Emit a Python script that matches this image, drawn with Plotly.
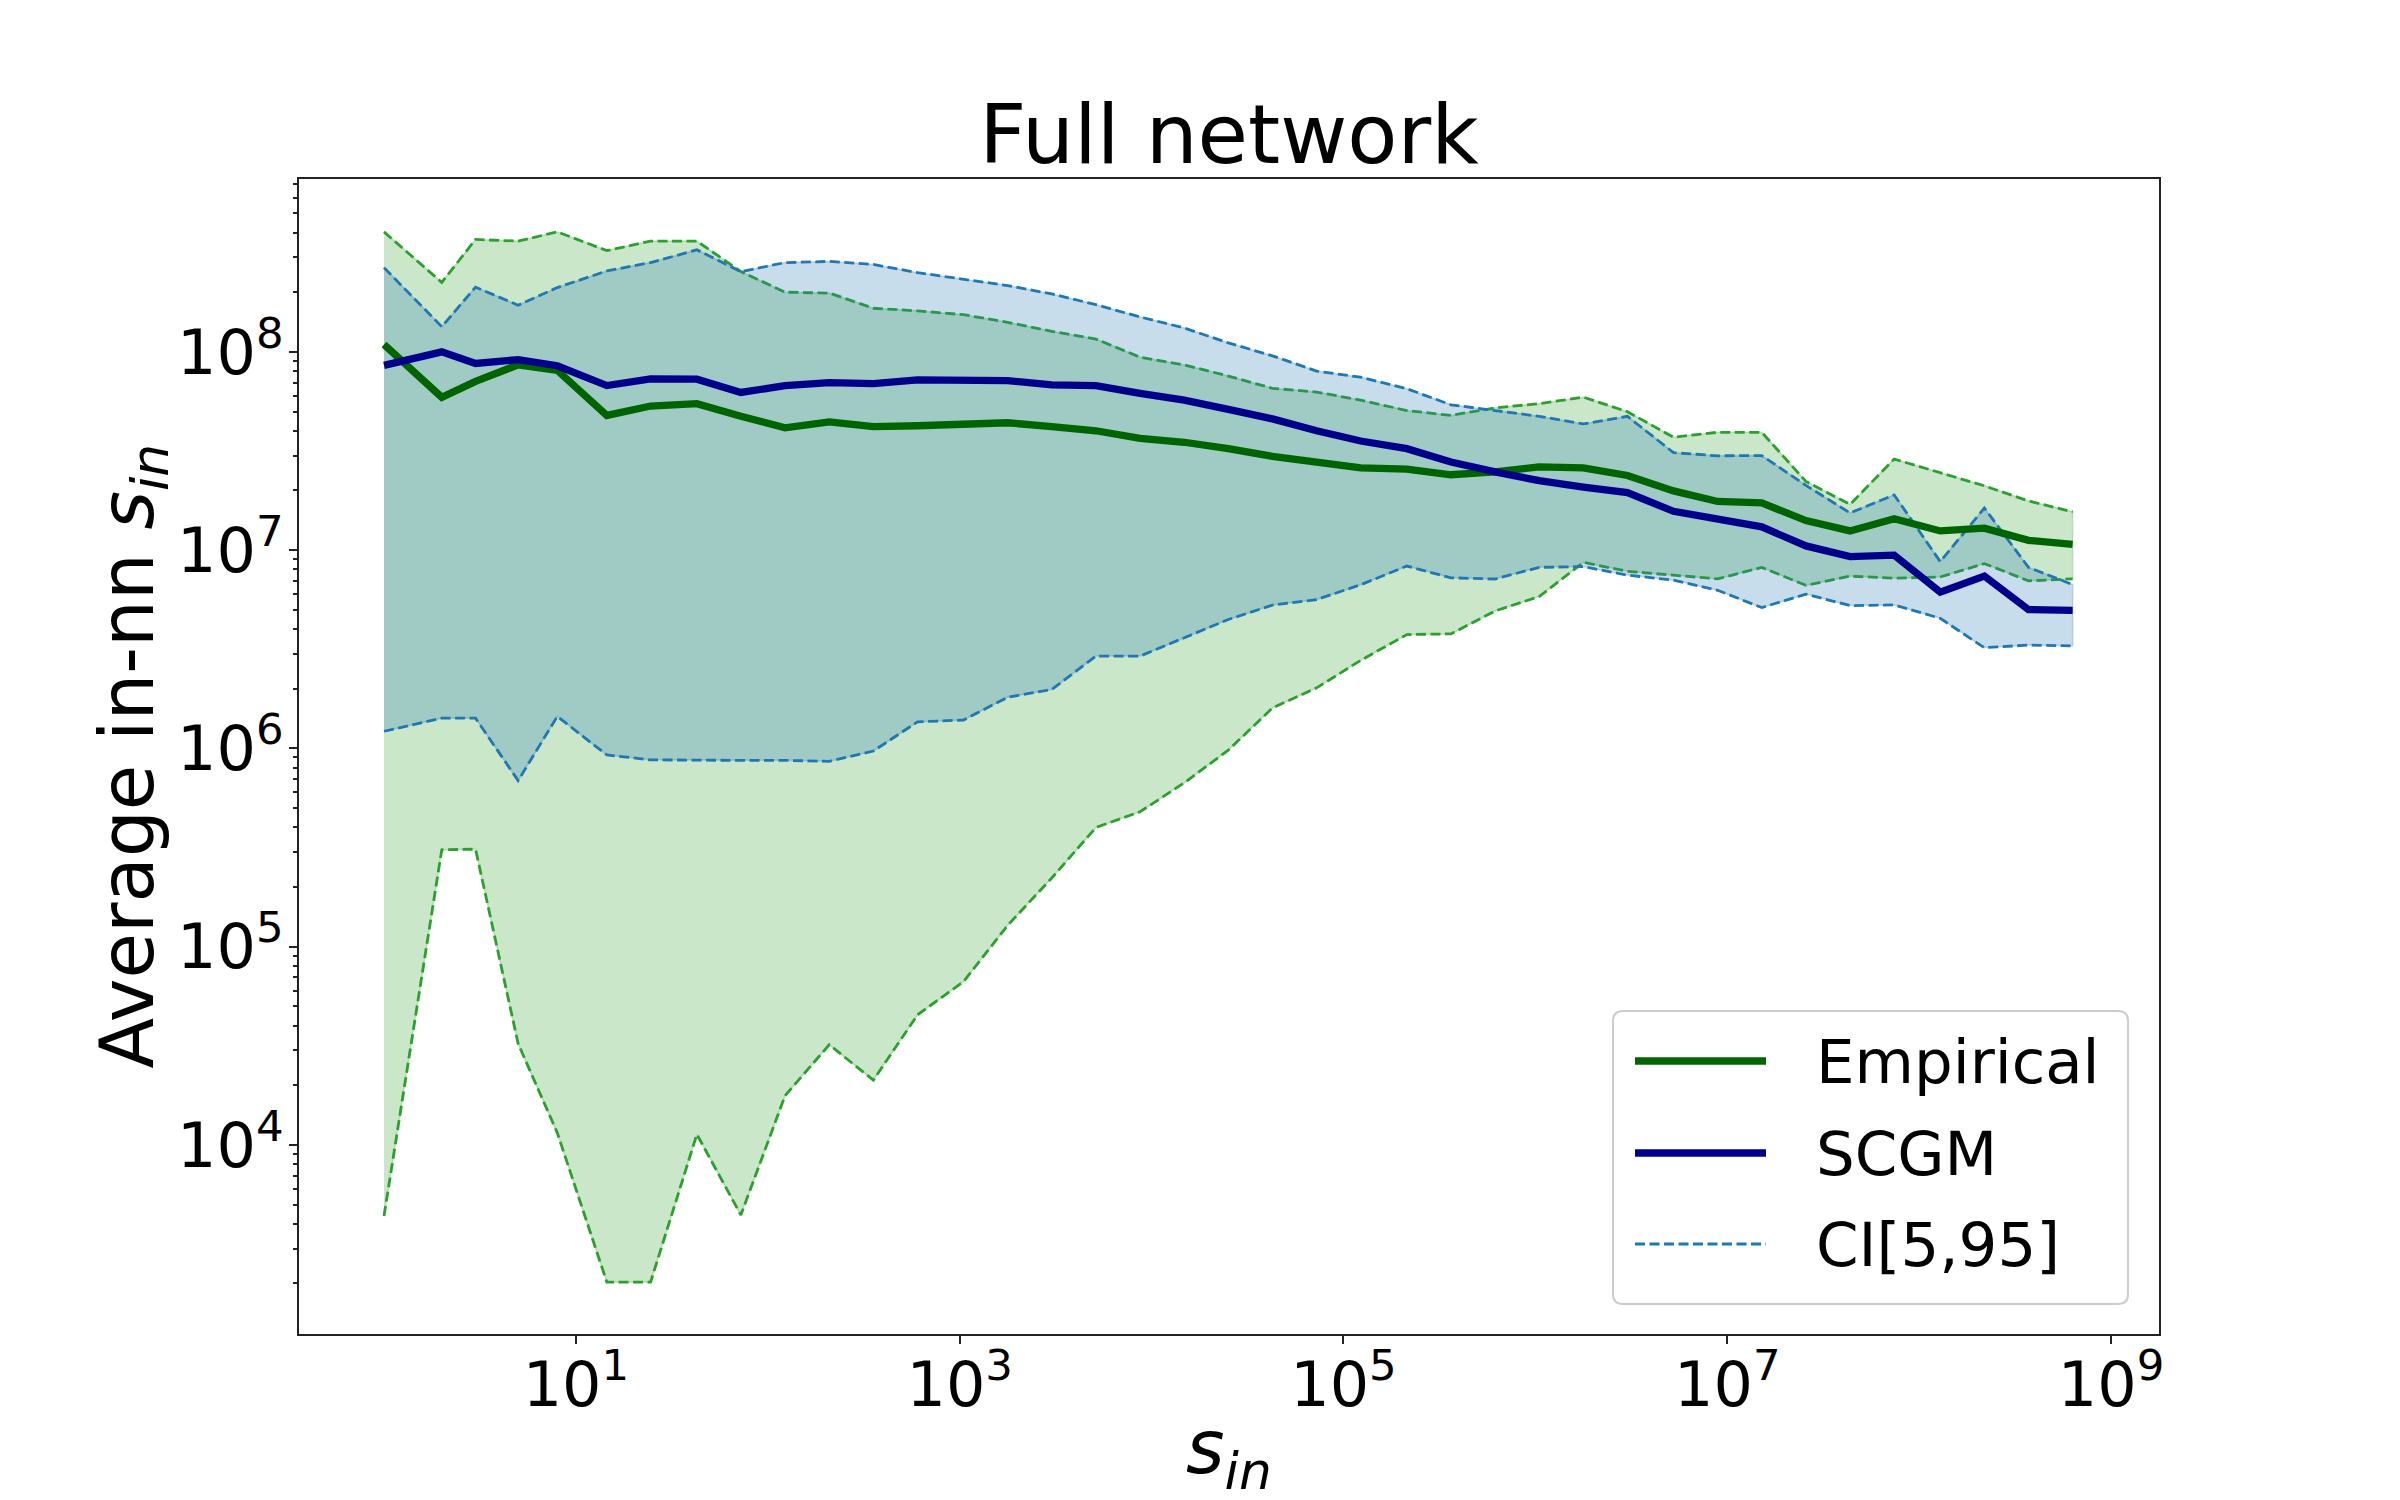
import plotly.graph_objects as go

# ---------------- data ----------------
s_in = [1, 2, 3, 5, 8, 14.5, 24.5, 42.7, 72.4, 123, 209, 355, 603, 1047, 1778,
        3020, 5129, 8710, 14791, 25119, 42658, 72444, 123027, 213796, 363078,
        616595, 1047129, 1778279, 3019952, 5248075, 8912509, 15135612,
        25703958, 43651583, 74131024, 128824955, 218776162, 371535229, 630957344]

empirical = [1.09e8, 5.9e7, 7.1e7, 8.6e7, 8.07e7, 4.78e7, 5.33e7, 5.48e7, 4.73e7,
             4.14e7, 4.43e7, 4.2e7, 4.24e7, 4.33e7, 4.39e7, 4.2e7,
             4.0e7, 3.66e7, 3.5e7, 3.25e7, 2.97e7, 2.78e7, 2.6e7, 2.56e7, 2.4e7,
             2.48e7, 2.63e7, 2.6e7, 2.38e7, 1.99e7, 1.76e7, 1.73e7, 1.41e7,
             1.25e7, 1.44e7, 1.25e7, 1.29e7, 1.12e7, 1.07e7]

scgm = [8.55e7, 1.0e8, 8.74e7, 9.14e7, 8.51e7, 6.76e7, 7.31e7, 7.28e7, 6.24e7,
        6.76e7, 7.0e7, 6.91e7, 7.22e7, 7.13e7, 7.16e7, 6.81e7,
        6.76e7, 6.18e7, 5.71e7, 5.13e7, 4.59e7, 4.0e7, 3.55e7, 3.25e7, 2.78e7,
        2.48e7, 2.24e7, 2.08e7, 1.95e7, 1.57e7, 1.44e7, 1.31e7, 1.05e7,
        9.27e6, 9.44e6, 6.14e6, 7.39e6, 5.01e6, 4.97e6]

emp_hi = [4.03e8, 2.24e8, 3.69e8, 3.62e8, 4.03e8, 3.24e8, 3.62e8, 3.62e8, 2.54e8,
          2.0e8, 1.98e8, 1.66e8, 1.61e8, 1.54e8, 1.41e8, 1.27e8,
          1.16e8, 9.4e7, 8.6e7, 7.55e7, 6.55e7, 6.27e7, 5.71e7, 5.06e7, 4.78e7,
          5.22e7, 5.48e7, 5.91e7, 4.99e7, 3.71e7, 3.93e7, 3.93e7, 2.22e7,
          1.7e7, 2.88e7, 2.45e7, 2.11e7, 1.77e7, 1.56e7]

emp_lo = [4.38e3, 3.08e5, 3.1e5, 3.24e4, 1.15e4, 2.03e3, 2.03e3, 1.13e4, 4.43e3,
          1.77e4, 3.2e4, 2.12e4, 4.53e4, 6.66e4, 1.28e5, 2.22e5, 3.99e5, 4.79e5,
          6.7e5, 9.8e5, 1.6e6, 2.02e6, 2.78e6, 3.75e6, 3.78e6, 4.93e6, 5.83e6,
          8.67e6, 7.82e6, 7.48e6, 7.16e6, 8.18e6, 6.64e6, 7.39e6, 7.22e6,
          7.32e6, 8.55e6, 7.0e6, 7.16e6]

scgm_hi = [2.66e8, 1.34e8, 2.12e8, 1.72e8, 2.11e8, 2.56e8, 2.82e8, 3.27e8, 2.54e8,
           2.82e8, 2.86e8, 2.76e8, 2.51e8, 2.32e8, 2.16e8, 1.96e8,
           1.73e8, 1.5e8, 1.32e8, 1.11e8, 9.55e7, 8.0e7, 7.45e7, 6.52e7, 5.41e7,
           5.06e7, 4.73e7, 4.33e7, 4.73e7, 3.1e7, 2.99e7, 3.0e7, 2.12e7,
           1.54e7, 1.9e7, 8.75e6, 1.63e7, 8.18e6, 6.7e6]

scgm_lo = [1.22e6, 1.42e6, 1.42e6, 6.88e5, 1.45e6, 9.26e5, 8.75e5, 8.7e5, 8.7e5,
           8.7e5, 8.6e5, 9.7e5, 1.36e6, 1.39e6, 1.81e6, 1.98e6,
           2.92e6, 2.92e6, 3.6e6, 4.47e6, 5.28e6, 5.63e6, 6.69e6, 8.31e6, 7.25e6,
           7.15e6, 8.19e6, 8.26e6, 7.48e6, 7.06e6, 6.27e6, 5.13e6, 6.0e6,
           5.25e6, 5.29e6, 4.53e6, 3.22e6, 3.32e6, 3.29e6]

x_tickvals = [1e1, 1e3, 1e5, 1e7, 1e9]
x_ticktext = ["10<sup>1</sup>", "10<sup>3</sup>", "10<sup>5</sup>", "10<sup>7</sup>", "10<sup>9</sup>"]
y_tickvals = [1e4, 1e5, 1e6, 1e7, 1e8]
y_ticktext = ["10<sup>4</sup>", "10<sup>5</sup>", "10<sup>6</sup>", "10<sup>7</sup>", "10<sup>8</sup>"]
legend_labels = ["Empirical", "SCGM", "CI[5,95]"]

# ---------------- styling ----------------
FONT = "DejaVu Sans"
OFF = 8                       # page body margin of the html page
W, H = 2400 - 2 * OFF, 1500 - 2 * OFF
L_, R_, T_, B_ = 299, 2159, 179, 1334   # plot area in screenshot pixels
GREEN_FILL = "rgba(44,160,44,0.25)"
BLUE_FILL = "rgba(31,119,180,0.25)"
TAB_GREEN = "#2ca02c"
TAB_BLUE = "#1f77b4"
DARKGREEN = "#006400"
DARKBLUE = "#00008B"
DASH = "10px,4.5px"
AX = "#222222"


def px(X):
    return (X - L_) / (R_ - L_)


def py(Y):
    return (B_ - Y) / (B_ - T_)


fig = go.Figure()

# filled CI bands (polygons like fill_between)
fig.add_trace(go.Scatter(x=s_in + s_in[::-1], y=emp_hi + emp_lo[::-1], mode="lines",
                         fill="toself", fillcolor=GREEN_FILL,
                         line=dict(color=GREEN_FILL, width=1.5), showlegend=False,
                         hoverinfo="skip"))
fig.add_trace(go.Scatter(x=s_in, y=emp_hi, mode="lines",
                         line=dict(color=TAB_GREEN, width=2.8, dash=DASH), showlegend=False))
fig.add_trace(go.Scatter(x=s_in, y=emp_lo, mode="lines",
                         line=dict(color=TAB_GREEN, width=2.8, dash=DASH), showlegend=False))

fig.add_trace(go.Scatter(x=s_in + s_in[::-1], y=scgm_hi + scgm_lo[::-1], mode="lines",
                         fill="toself", fillcolor=BLUE_FILL,
                         line=dict(color=BLUE_FILL, width=1.5), showlegend=False,
                         hoverinfo="skip"))
fig.add_trace(go.Scatter(x=s_in, y=scgm_hi, mode="lines",
                         line=dict(color=TAB_BLUE, width=2.8, dash=DASH), showlegend=False))
fig.add_trace(go.Scatter(x=s_in, y=scgm_lo, mode="lines",
                         line=dict(color=TAB_BLUE, width=2.8, dash=DASH), showlegend=False))

# mean curves
fig.add_trace(go.Scatter(x=s_in, y=empirical, mode="lines", name="Empirical",
                         line=dict(color=DARKGREEN, width=7.3), showlegend=False))
fig.add_trace(go.Scatter(x=s_in, y=scgm, mode="lines", name="SCGM",
                         line=dict(color=DARKBLUE, width=7.3), showlegend=False))

# minor y ticks
minor_y = [m * 10 ** e for e in range(3, 9) for m in range(2, 10) if m * 10 ** e < 8e8]

axis_common = dict(type="log", showgrid=False, zeroline=False, showline=True,
                   linecolor=AX, linewidth=2, mirror=True, ticks="outside",
                   ticklen=8, tickwidth=2, tickcolor=AX,
                   tickfont=dict(family=FONT, size=62, color="black"))

fig.update_layout(
    width=W, height=H, autosize=False,
    margin=dict(l=L_ - OFF, r=(W + OFF) - R_, t=T_ - OFF, b=(H + OFF) - B_, pad=0),
    paper_bgcolor="white", plot_bgcolor="white",
    font=dict(family=FONT, color="black"),
    title=dict(text="Full network", x=0.5, xref="paper", xanchor="center",
               y=1 - (134 - OFF) / H, yref="container", yanchor="middle",
               font=dict(family=FONT, size=82, color="black")),
    xaxis=dict(range=[-0.443, 9.25], tickvals=x_tickvals, ticktext=x_ticktext,
               ticklabelstandoff=-12, **axis_common),
    yaxis=dict(range=[3.046, 8.872], tickvals=y_tickvals, ticktext=y_ticktext,
               ticklabelstandoff=-7,
               minor=dict(tickvals=minor_y, ticks="outside", ticklen=4.5, tickwidth=1.5,
                          tickcolor=AX, showgrid=False),
               **axis_common),
    showlegend=False,
)

# axis titles
fig.add_annotation(text="<i>s</i><sub><i>in</i></sub>", xref="paper", yref="paper",
                   x=px(1229), y=py(1452), xanchor="center", yanchor="middle",
                   showarrow=False, font=dict(family=FONT, size=74, color="black"))
fig.add_annotation(text="Average in-nn <i>s</i><sub><i>in</i></sub>", xref="paper", yref="paper",
                   x=px(132), y=0.5, xanchor="center", yanchor="middle", textangle=-90,
                   showarrow=False, font=dict(family=FONT, size=74, color="black"))

# legend (drawn like matplotlib's: long line samples, rounded frame)
bx0, bx1, by0, by1 = px(1613), px(2128), py(1304), py(1011)
rx, ry = 10 / (R_ - L_), 10 / (B_ - T_)
path = (f"M {bx0+rx},{by1} L {bx1-rx},{by1} Q {bx1},{by1} {bx1},{by1-ry} "
        f"L {bx1},{by0+ry} Q {bx1},{by0} {bx1-rx},{by0} L {bx0+rx},{by0} "
        f"Q {bx0},{by0} {bx0},{by0+ry} L {bx0},{by1-ry} Q {bx0},{by1} {bx0+rx},{by1} Z")
fig.add_shape(type="path", path=path, xref="paper", yref="paper",
              fillcolor="rgba(255,255,255,0.8)", line=dict(color="#cccccc", width=2),
              layer="above")

rows = [(1061, DARKGREEN, 7.3, "solid"), (1153, DARKBLUE, 7.3, "solid"),
        (1244, TAB_BLUE, 2.8, DASH)]
for (Y, col, w, dash), lab in zip(rows, legend_labels):
    fig.add_shape(type="line", xref="paper", yref="paper",
                  x0=px(1635), x1=px(1766), y0=py(Y), y1=py(Y),
                  line=dict(color=col, width=w, dash=dash), layer="above")
    fig.add_annotation(text=lab, xref="paper", yref="paper", x=px(1814), y=py(Y),
                       xanchor="left", yanchor="middle", showarrow=False,
                       font=dict(family=FONT, size=61, color="black"))

fig.write_html("out.html")
